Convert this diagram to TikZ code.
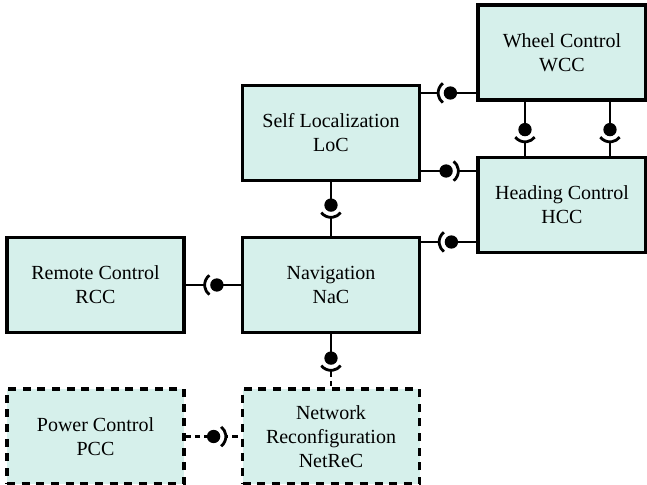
\documentclass[tikz,border=0pt]{standalone}
\usepackage{fontspec}
\setmainfont{Liberation Serif}
\usetikzlibrary{decorations.markings}
\definecolor{compfill}{RGB}{214,240,235}

\begin{document}
\begin{tikzpicture}[x=.75pt,y=-.75pt]
\tikzstyle{every node}=[font=\fontsize{15}{18}\selectfont, align=center, inner sep=2pt]
\tikzstyle{comp}=[draw, line width=2.4pt, fill=compfill, minimum width=132.75pt, minimum height=71.25pt]
\tikzstyle{optcomp}=[comp, dash pattern=on 6pt off 5pt]
\tikzstyle{link}=[line width=2.1pt]
\tikzstyle{optlink}=[link, dash pattern=on 4pt off 3pt]
\tikzstyle{lolli}=[postaction={decorate}, decoration={markings, mark=at position #1 with {
  \fill[white] (0,-2.5pt) rectangle (8.5pt,2.5pt);
  \draw[solid, line width=2.1pt] (-52:9.2pt) arc (-52:52:9.2pt);
  \fill (0,0) circle (5pt);}}]
\useasboundingbox (0,0) rectangle (647,485);
\draw (562,52.5) node (wcc) [comp, minimum width=126pt] {Wheel Control\\WCC};
\draw (331,133) node (loc) [comp] {Self Localization\\LoC};
\draw (562,205) node (hcc) [comp, minimum width=126pt] {Heading Control\\HCC};
\draw (95.5,285) node (rcc) [comp] {Remote Control\\RCC};
\draw (331,285) node (nac) [comp] {Navigation\\NaC};
\draw (95.5,436.5) node (pcc) [optcomp] {Power Control\\PCC};
\draw (331,436.5) node (netrec) [optcomp] {Network\\Reconfiguration\\NetReC};
\draw [link, lolli=19.5pt] (wcc.west |- 0,93) -- (loc.east |- 0,93);
\draw [link, lolli=18.75pt] (loc.east |- 0,171) -- (hcc.west |- 0,171);
\draw [link, lolli=18.75pt] (hcc.west |- 0,242) -- (nac.east |- 0,242);
\draw [link, lolli=21pt] (wcc.south -| 525,0) -- (hcc.north -| 525,0);
\draw [link, lolli=21pt] (wcc.south -| 610,0) -- (hcc.north -| 610,0);
\draw [link, lolli=17.25pt] (loc.south) -- (nac.north);
\draw [link, lolli=18pt] (nac.west) -- (rcc.east);
\draw [optlink, lolli=18pt] (nac.south) -- (netrec.north);
\draw [link] (nac.south) -- ++(0,24);
\draw [optlink, lolli=21pt] (pcc.east) -- (netrec.west);
\end{tikzpicture}
\end{document}
